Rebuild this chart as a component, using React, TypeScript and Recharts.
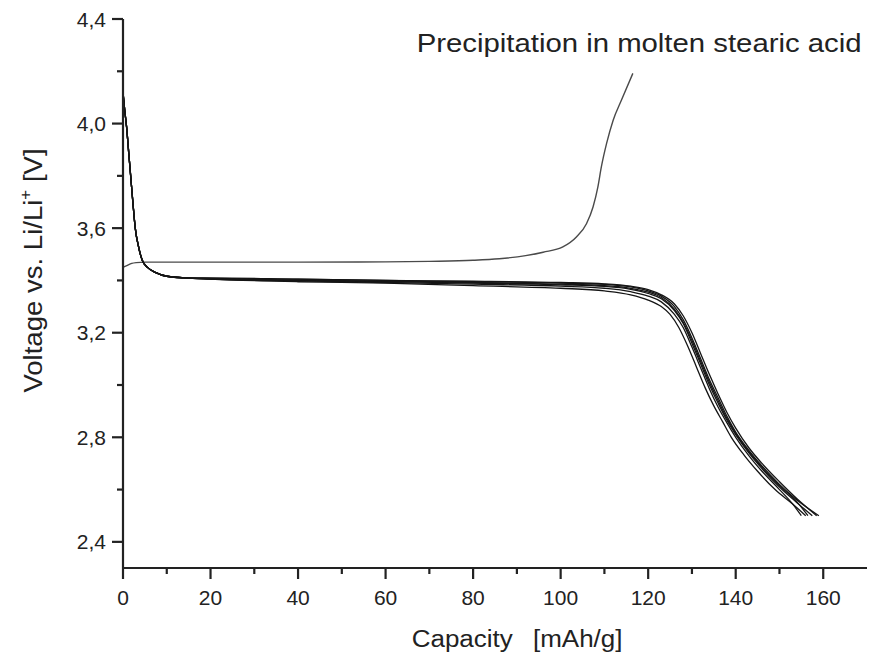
import { LineChart, Line, XAxis, YAxis } from "recharts";

// capacity [mAh/g] / voltage [V] pairs
const chargeCap = [0, 1, 2, 3, 5, 10, 20, 40, 60, 70, 80, 86, 92, 96, 100.5, 103.6, 105.9, 107.4, 108.5, 109.3, 110.5, 112, 113.9, 116.5];
const chargeV = [3.45, 3.458, 3.465, 3.468, 3.47, 3.47, 3.47, 3.47, 3.471, 3.473, 3.477, 3.483, 3.495, 3.508, 3.528, 3.566, 3.617, 3.681, 3.757, 3.834, 3.924, 4.013, 4.09, 4.192];

// common start of every discharge (the steep drop from ~4.1 V)
const headCap = [0, 0.4, 0.8, 1.3, 1.8, 2.3, 2.8, 3.6, 4.4, 5.6, 7.5, 10, 14];
const headV = [4.12, 4.05, 3.99, 3.89, 3.79, 3.69, 3.6, 3.525, 3.477, 3.45, 3.43, 3.416, 3.41];

const d1Cap = [20, 40, 60, 80, 100, 110, 116, 120, 123, 126, 128, 130, 132, 134, 136, 138, 140, 143, 146, 150, 154, 159];
const d1V = [3.408, 3.405, 3.4, 3.395, 3.39, 3.385, 3.375, 3.36, 3.34, 3.3, 3.25, 3.18, 3.1, 3.02, 2.95, 2.88, 2.82, 2.75, 2.69, 2.62, 2.56, 2.5];

const d2Cap = [20, 40, 60, 80, 100, 110, 116, 120, 123, 126, 128, 130, 132, 134, 136, 138, 140, 143, 146, 150, 154, 157.5];
const d2V = [3.405, 3.4, 3.395, 3.39, 3.383, 3.377, 3.366, 3.35, 3.33, 3.285, 3.235, 3.16, 3.08, 3.0, 2.93, 2.865, 2.81, 2.74, 2.68, 2.61, 2.55, 2.5];

const d3Cap = [20, 40, 60, 80, 100, 110, 116, 120, 123, 125, 127, 129, 131, 133, 135, 137, 139, 142, 145, 149, 153, 156];
const d3V = [3.405, 3.395, 3.39, 3.38, 3.37, 3.36, 3.345, 3.325, 3.3, 3.27, 3.22, 3.15, 3.07, 2.99, 2.92, 2.86, 2.8, 2.73, 2.67, 2.6, 2.545, 2.5];

const d4Cap = [20, 40, 60, 80, 100, 110, 116, 120, 123, 126, 128, 130, 132, 134, 136, 138, 140, 143, 146, 150, 154, 158.5];
const d4V = [3.41, 3.405, 3.4, 3.397, 3.392, 3.387, 3.378, 3.365, 3.345, 3.31, 3.265, 3.2, 3.12, 3.04, 2.965, 2.895, 2.835, 2.76, 2.7, 2.63, 2.565, 2.5];

const d5Cap = [20, 40, 60, 80, 100, 110, 116, 120, 123, 126, 128, 130, 132, 134, 136, 138, 140, 143, 146, 150, 153, 155];
const d5V = [3.405, 3.398, 3.392, 3.386, 3.378, 3.37, 3.357, 3.34, 3.318, 3.27, 3.22, 3.145, 3.065, 2.985, 2.915, 2.855, 2.8, 2.73, 2.67, 2.6, 2.545, 2.5];

const d6Cap = [20, 40, 60, 80, 100, 110, 116, 120, 123, 126, 128, 130, 132, 134, 136, 138, 140, 143, 146, 150, 154, 156.5];
const d6V = [3.407, 3.402, 3.397, 3.392, 3.386, 3.38, 3.37, 3.355, 3.335, 3.29, 3.24, 3.17, 3.09, 3.01, 2.94, 2.872, 2.815, 2.745, 2.685, 2.615, 2.553, 2.5];

const xTicks = [0, 10, 20, 30, 40, 50, 60, 70, 80, 90, 100, 110, 120, 130, 140, 150, 160];
const yTicks = [2.4, 2.6, 2.8, 3.0, 3.2, 3.4, 3.6, 3.8, 4.0, 4.2, 4.4];

const toPoints = (cap: number[], v: number[]) => cap.map((c, i) => ({ x: c, v: v[i] }));

const charge = toPoints(chargeCap, chargeV);
const discharges = [
  [d1Cap, d1V],
  [d2Cap, d2V],
  [d3Cap, d3V],
  [d4Cap, d4V],
  [d5Cap, d5V],
  [d6Cap, d6V],
].map(([c, v]) => toPoints([...headCap, ...c], [...headV, ...v]));

const FONT = '"Liberation Sans", Arial, sans-serif';
const INK = "#222";
const TICK = 11;

const XTick = (props: any) => {
  const { x, y, payload } = props;
  const axisY = y - TICK;
  const major = payload.value % 20 === 0;
  return (
    <g>
      <line x1={x} x2={x} y1={axisY} y2={axisY + (major ? 11 : 6)} stroke={INK} strokeWidth={2.2} />
      {major && (
        <text x={x} y={axisY + 22} dy="0.71em" textAnchor="middle" fontSize={21} fill={INK} fontFamily={FONT}>
          {payload.value}
        </text>
      )}
    </g>
  );
};

const YTick = (props: any) => {
  const { x, y, payload } = props;
  const axisX = x + TICK;
  const major = Math.round(payload.value * 10) % 4 === 0;
  return (
    <g>
      <line x1={axisX} x2={axisX - (major ? 11 : 6)} y1={y} y2={y} stroke={INK} strokeWidth={2.2} />
      {major && (
        <text x={axisX - 17} y={y} dy="0.36em" textAnchor="end" fontSize={21} fill={INK} fontFamily={FONT}>
          {payload.value.toFixed(1).replace(".", ",")}
        </text>
      )}
    </g>
  );
};

export default function App() {
  return (
    <div style={{ position: "absolute", left: 0, top: 0, width: 870, height: 657, background: "#fff" }}>
      <LineChart width={870} height={657} margin={{ top: 19, right: 3, bottom: 0, left: 0 }}>
        <XAxis
          type="number"
          dataKey="x"
          domain={[0, 170]}
          ticks={xTicks}
          interval={0}
          height={89}
          tickSize={TICK}
          tickMargin={0}
          tickLine={{ stroke: "none" }}
          tick={<XTick />}
          axisLine={{ stroke: INK, strokeWidth: 2.2 }}
          allowDataOverflow
        />
        <XAxis
          xAxisId="top"
          orientation="top"
          type="number"
          domain={[0, 170]}
          height={0}
          tick={false}
          tickLine={false}
          axisLine={{ stroke: INK, strokeWidth: 2.2 }}
        />
        <YAxis
          type="number"
          domain={[2.3, 4.4]}
          ticks={yTicks}
          interval={0}
          width={123}
          tickSize={TICK}
          tickMargin={0}
          tickLine={{ stroke: "none" }}
          tick={<YTick />}
          axisLine={{ stroke: INK, strokeWidth: 2.2 }}
          allowDataOverflow
        />
        <YAxis
          yAxisId="right"
          orientation="right"
          type="number"
          domain={[2.3, 4.4]}
          width={0}
          tick={false}
          tickLine={false}
          axisLine={{ stroke: INK, strokeWidth: 2.2 }}
        />
        <Line
          data={charge}
          dataKey="v"
          type="monotone"
          stroke="#4a4a4a"
          strokeWidth={1.4}
          dot={false}
          isAnimationActive={false}
        />
        {discharges.map((d, i) => (
          <Line
            key={i}
            data={d}
            dataKey="v"
            type="monotone"
            stroke="#151515"
            strokeWidth={1.3}
            dot={false}
            isAnimationActive={false}
          />
        ))}
      </LineChart>
      <svg
        width={870}
        height={657}
        style={{ position: "absolute", left: 0, top: 0, pointerEvents: "none" }}
        fontFamily={FONT}
        fill={INK}
      >
        <text transform="translate(416.7,51.7) scale(1.128,1)" fontSize={26}>
          Precipitation in molten stearic acid
        </text>
        <text transform="translate(411.7,646.7) scale(1.13,1)" fontSize={23}>
          <tspan x={0}>Capacity</tspan>
          <tspan x={107.3}>[mAh/g]</tspan>
        </text>
        <text transform="translate(41.7,270.5) rotate(-90) scale(1.06,1)" fontSize={26} textAnchor="middle">
          Voltage vs. Li/Li
          <tspan fontSize={16} dy={-11}>+</tspan>
          <tspan dy={11}> [V]</tspan>
        </text>
      </svg>
    </div>
  );
}
